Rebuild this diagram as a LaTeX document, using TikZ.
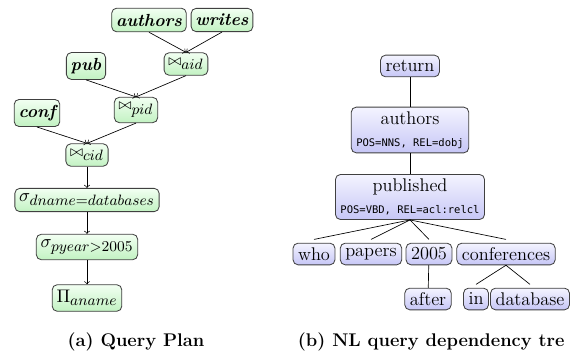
\documentclass[tikz,border=0pt]{standalone}
\usepackage{amsmath,amssymb}
\usepackage{fontspec}
\setmonofont{DejaVu Sans Mono}
\usetikzlibrary{positioning}
\DeclareMathSizes{10.5}{10.5}{8.6}{6.5}
\definecolor{plantop}{RGB}{242,255,242}
\definecolor{planbot}{RGB}{194,242,194}
\definecolor{deptop}{RGB}{244,244,255}
\definecolor{depbot}{RGB}{198,198,246}
\newcommand\posrel[1]{{\fontsize{6.3}{7.5}\selectfont\ttfamily #1}}
\newcommand\jn[1]{{\scriptstyle\bowtie}_{#1}}

\begin{document}
\begin{tikzpicture}[x=0.6pt,y=-0.6pt,
		plan/.style={draw=black!75,line width=0.5pt,rounded corners=3pt,top color=plantop,bottom color=planbot,inner xsep=2.6pt,inner ysep=3.4pt,font=\fontsize{10.5}{12}\selectfont},
		rel/.style={plan,font=\fontsize{10.5}{12}\selectfont\bfseries\itshape},
		dep/.style={draw=black!75,line width=0.5pt,rounded corners=3pt,top color=deptop,bottom color=depbot,inner xsep=3pt,inner ysep=1pt,minimum height=13pt,font=\fontsize{11}{12.5}\selectfont},
		subcap/.style={font=\fontsize{11}{13}\selectfont\bfseries}]
		\useasboundingbox (0,0) rectangle (577,353);
		\clip (0,0) rectangle (577,353);

		\node[rel] (authors) at (149,20) {authors};
		\node[rel] (writes) at (222,20) {writes};
		\node[plan] (aid) at (186,64) {$\jn{aid}$};
		\node[rel] (pub) at (86,66) {pub};
		\node[plan] (pid) at (136,110) {$\jn{pid}$};
		\node[rel] (conf) at (37,113) {conf};
		\node[plan] (cid) at (87,155) {$\jn{cid}$};
		\node[plan] (dname) at (87,200) {$\sigma_{dname=databases}$};
		\node[plan] (pyear) at (87,247) {$\sigma_{pyear>2005}$};
		\node[plan] (aname) at (87,298) {$\Pi_{aname}$};

		\draw [->] (authors.south) -- (aid.north);
		\draw [->] (writes.south) -- (aid.north);
		\draw [->] (pub.south) -- (pid.north);
		\draw [->] (aid.south) -- (pid.north);
		\draw [->] (conf.south) -- (cid.north);
		\draw [->] (pid.south) -- (cid.north);
		\draw [->] (cid) -- (dname);
		\draw [->] (dname) -- (pyear);
		\draw [->] (pyear) -- (aname);

		\node[dep] (return) at (410,66) {return};
		\node[dep,align=center,inner ysep=2.5pt] (nauthors) at (410,130) {authors\\[1pt]\posrel{POS=NNS, REL=dobj}};
		\node[dep,align=center,inner ysep=2.5pt] (published) at (410,197) {published\\[1pt]\posrel{POS=VBD, REL=acl:relcl}};
		\node[dep] (who) at (314,254) {who};
		\node[dep] (papers) at (371,254) {papers};
		\node[dep] (year) at (429,254) {2005};
		\node[dep] (confs) at (506,254) {conferences};
		\node[dep] (after) at (428,299) {after};
		\node[dep] (in) at (476,299) {in};
		\node[dep] (database) at (530,299) {database};

		\draw (return) -- (nauthors);
		\draw (nauthors) -- (published);
		\foreach \child in {who,papers,year,confs}
			\draw (published.south) -- ([yshift=2pt]\child.north);
		\draw (year) -- (after);
		\draw (confs.south) -- ([yshift=2pt]in.north);
		\draw (confs.south) -- ([yshift=2pt]database.north);

		\node[subcap] (capa) at (136,342) {(a) Query Plan};
		\node[subcap,anchor=west] (capb) at (292,342) {(b) NL query dependency tre};
	\end{tikzpicture}
\end{document}
